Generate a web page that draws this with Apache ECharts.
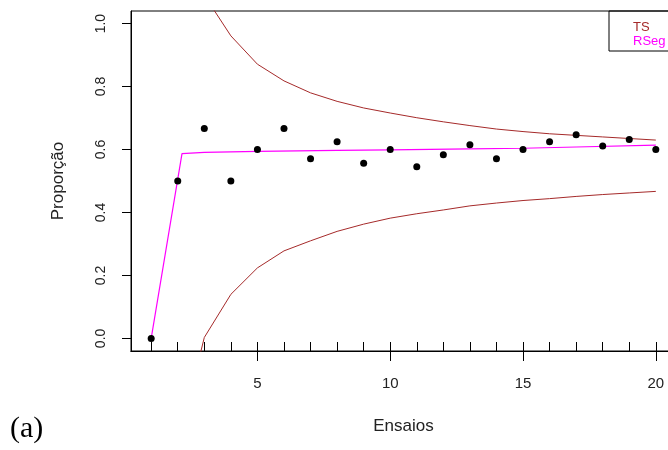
<!DOCTYPE html>
<html>
<head>
<meta charset="utf-8">
<script src="https://cdn.jsdelivr.net/npm/echarts@6/dist/echarts.min.js"></script>
<style>
html,body{margin:0;padding:0;background:#fff;}
#chart{width:668px;height:450px;}
</style>
</head>
<body>
<div id="chart"></div>
<script>
// Data
var trials = [1,2,3,4,5,6,7,8,9,10,11,12,13,14,15,16,17,18,19,20];
var proportion = [0, 0.5, 0.667, 0.5, 0.6, 0.667, 0.571, 0.625, 0.556, 0.6, 0.545, 0.583, 0.615, 0.571, 0.6, 0.625, 0.647, 0.611, 0.632, 0.6];
var tsUpper = [2.2, 1.37, 1.09, 0.961, 0.871, 0.818, 0.780, 0.753, 0.732, 0.716, 0.701, 0.688, 0.676, 0.665, 0.657, 0.650, 0.645, 0.640, 0.635, 0.630];
var tsLower = [-1.1, -0.34, 0.003, 0.14, 0.224, 0.278, 0.31, 0.34, 0.363, 0.382, 0.396, 0.408, 0.421, 0.430, 0.438, 0.444, 0.451, 0.457, 0.462, 0.467];
var rsegX = [1, 2.16, 3, 5, 8, 10, 13, 15, 17, 20];
var rsegY = [0, 0.587, 0.591, 0.594, 0.597, 0.599, 0.602, 0.604, 0.608, 0.614];
var xMajorTicks = [5, 10, 15, 20];
var yTicks = [0, 0.2, 0.4, 0.6, 0.8, 1.0];
var legendNames = ['TS', 'RSeg'];

function pairs(xs, ys){ return xs.map(function(x,i){ return [x, ys[i]]; }); }

var brown = '#A52A2A', magenta = '#FF00FF';
var font = 'Liberation Sans, Arial, sans-serif';

var chart = echarts.init(document.getElementById('chart'), null, {renderer:'canvas'});
chart.setOption({
  animation: false,
  backgroundColor: '#fff',
  grid: {left: 131, top: 11, width: 545, height: 340, show: true, borderColor: '#000', borderWidth: 1,
    backgroundColor: 'transparent', containLabel: false, outerBoundsMode: 'none'},
  xAxis: [{
    type: 'value', min: 0.24, max: 20.76, position: 'bottom',
    axisLine: {show: true, onZero: false, lineStyle: {color: '#000', width: 1}},
    axisTick: {show: true, inside: true, length: 9, customValues: trials, lineStyle: {color: '#000'}},
    axisLabel: {show: false},
    splitLine: {show: false}
  }, {
    type: 'value', min: 0.24, max: 20.76, position: 'bottom',
    name: 'Ensaios', nameLocation: 'middle', nameGap: 67,
    nameTextStyle: {fontFamily: font, fontSize: 17, color: '#222'},
    axisLine: {show: true, onZero: false, lineStyle: {color: '#000', width: 1}},
    axisTick: {show: true, inside: false, length: 10, customValues: xMajorTicks, lineStyle: {color: '#000'}},
    axisLabel: {show: true, margin: 25, customValues: xMajorTicks, fontFamily: font, fontSize: 15, color: '#222'},
    splitLine: {show: false}
  }],
  yAxis: {
    type: 'value', min: -0.04, max: 1.04,
    name: 'Proporção', nameLocation: 'middle', nameGap: 64,
    nameTextStyle: {fontFamily: font, fontSize: 17, color: '#222'},
    axisLine: {show: true, onZero: false, lineStyle: {color: '#000', width: 1}},
    axisTick: {show: true, inside: false, length: 9, customValues: yTicks, lineStyle: {color: '#000'}},
    axisLabel: {show: true, rotate: 90, margin: 23, customValues: yTicks, fontFamily: font, fontSize: 14, color: '#222',
      formatter: function(v){ return v.toFixed(1); }},
    splitLine: {show: false}
  },
  legend: {
    orient: 'vertical', left: 609, top: 11,
    itemWidth: 0, itemHeight: 14, itemGap: 1,
    padding: [9, 60, 3, 19],
    borderColor: '#000', borderWidth: 1, borderRadius: 0,
    selectedMode: false,
    textStyle: {fontFamily: font, fontSize: 13},
    data: [
      {name: legendNames[0], icon: 'none', textStyle: {color: brown}},
      {name: legendNames[1], icon: 'none', textStyle: {color: magenta}}
    ]
  },
  graphic: [{
    type: 'text', left: 10, top: 414,
    style: {text: '(a)', font: '30px "Liberation Serif", "Times New Roman", serif', fill: '#000'}
  }],
  series: [
    {name: 'TS', type: 'line', xAxisIndex: 0, data: pairs(trials, tsUpper), showSymbol: false, clip: true,
      lineStyle: {color: brown, width: 1}, itemStyle: {color: brown}},
    {name: 'TS', type: 'line', xAxisIndex: 0, data: pairs(trials, tsLower), showSymbol: false, clip: true,
      lineStyle: {color: brown, width: 1}, itemStyle: {color: brown}},
    {name: 'RSeg', type: 'line', xAxisIndex: 0, data: pairs(rsegX, rsegY), showSymbol: false, clip: true,
      lineStyle: {color: magenta, width: 1.2}, itemStyle: {color: magenta}},
    {name: 'Proporção observada', type: 'scatter', xAxisIndex: 0, data: pairs(trials, proportion),
      symbolSize: 7, itemStyle: {color: '#000', opacity: 1}, z: 5}
  ]
});
</script>
</body>
</html>
